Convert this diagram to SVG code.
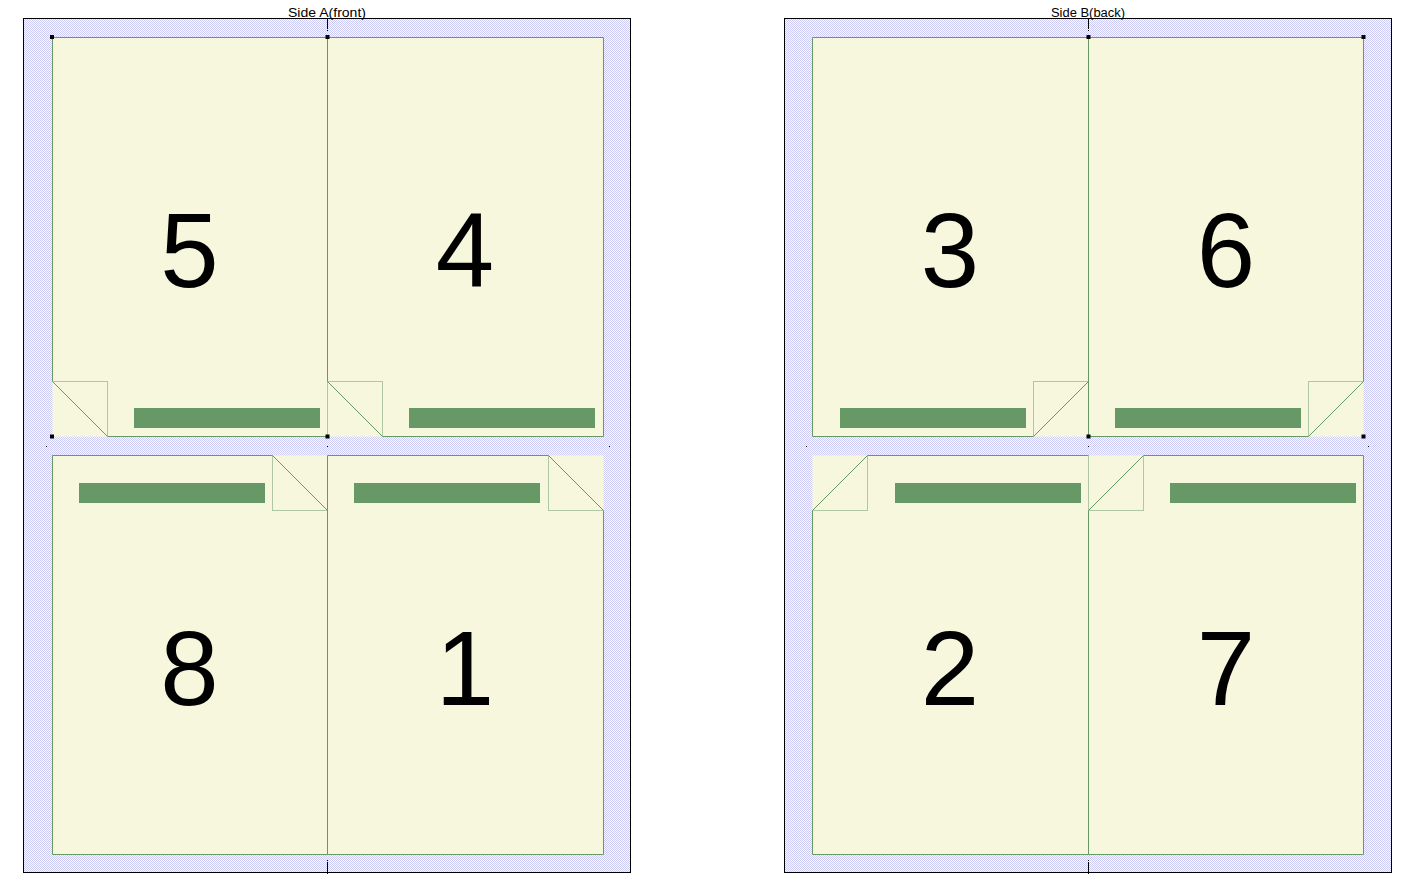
<svg xmlns="http://www.w3.org/2000/svg" width="1426" height="895" viewBox="0 0 1426 895">
<defs>
<pattern id="dots" x="0" y="0" width="2" height="2" patternUnits="userSpaceOnUse">
<rect width="2" height="2" fill="#fafaff"/>
<rect x="0" y="0" width="1" height="1" fill="#cbcbf6"/>
<rect x="1" y="1" width="1" height="1" fill="#cbcbf6"/>
</pattern>
</defs>
<style>
.sheet{fill:url(#dots);stroke:#000;stroke-width:1}
.page{fill:#f7f7de;stroke:#669966;stroke-width:1}
.foldfill{fill:#f7f7de;stroke:none}
.fold{fill:none;stroke:#669966;stroke-width:1}
.bar{fill:#669966}
.num{font-family:"Liberation Sans",Arial,sans-serif;font-size:105px;fill:#000;text-anchor:middle}
.title{font-family:"Liberation Sans",Arial,sans-serif;font-size:12px;fill:#000;text-anchor:middle}
.mk{fill:#000}
.tick{stroke:#000;stroke-width:1}
</style>
<rect width="1426" height="895" fill="#fff"/>

<g id="sideA">
<rect class="sheet" x="23.5" y="18.5" width="607" height="854"/>
<text class="title" x="327" y="17" textLength="78" lengthAdjust="spacingAndGlyphs">Side A(front)</text>

<g id="page5">
<path class="page" d="M52.5,37.5 H327.5 V436.5 H107.5 V381.5 H52.5 Z"/>
<rect class="foldfill" x="52.5" y="381.5" width="55" height="55"/>
<path class="fold" d="M52.5,381.5 L107.5,436.5"/>
<rect class="bar" x="134" y="408" width="186" height="20"/>
<text class="num" x="189.5" y="287">5</text>
</g>
<g id="page4">
<path class="page" d="M327.5,37.5 H603.5 V436.5 H382.5 V381.5 H327.5 Z"/>
<rect class="foldfill" x="327.5" y="381.5" width="55" height="55"/>
<path class="fold" d="M327.5,381.5 L382.5,436.5"/>
<rect class="bar" x="409" y="408" width="186" height="20"/>
<text class="num" x="465" y="287">4</text>
</g>
<g id="page8">
<path class="page" d="M52.5,455.5 H272.5 V510.5 H327.5 V854.5 H52.5 Z"/>
<rect class="foldfill" x="272.5" y="455.5" width="55" height="55"/>
<path class="fold" d="M272.5,455.5 L327.5,510.5"/>
<rect class="bar" x="79" y="483" width="186" height="20"/>
<text class="num" x="189.5" y="704.5">8</text>
</g>
<g id="page1">
<path class="page" d="M327.5,455.5 H548.5 V510.5 H603.5 V854.5 H327.5 Z"/>
<rect class="foldfill" x="548.5" y="455.5" width="55" height="55"/>
<path class="fold" d="M548.5,455.5 L603.5,510.5"/>
<rect class="bar" x="354" y="483" width="186" height="20"/>
<text class="num" x="465" y="704.5">1</text>
</g>
</g>

<g id="sideB">
<rect class="sheet" x="784.5" y="18.5" width="607" height="854"/>
<text class="title" x="1088" y="17" textLength="74" lengthAdjust="spacingAndGlyphs">Side B(back)</text>

<g id="page3">
<path class="page" d="M812.5,37.5 H1088.5 V381.5 H1033.5 V436.5 H812.5 Z"/>
<rect class="foldfill" x="1033.5" y="381.5" width="55" height="55"/>
<path class="fold" d="M1033.5,436.5 L1088.5,381.5"/>
<rect class="bar" x="840" y="408" width="186" height="20"/>
<text class="num" x="950" y="287">3</text>
</g>
<g id="page6">
<path class="page" d="M1088.5,37.5 H1363.5 V381.5 H1308.5 V436.5 H1088.5 Z"/>
<rect class="foldfill" x="1308.5" y="381.5" width="55" height="55"/>
<path class="fold" d="M1308.5,436.5 L1363.5,381.5"/>
<rect class="bar" x="1115" y="408" width="186" height="20"/>
<text class="num" x="1226" y="287">6</text>
</g>
<g id="page2">
<path class="page" d="M867.5,455.5 H1088.5 V854.5 H812.5 V510.5 H867.5 Z"/>
<rect class="foldfill" x="812.5" y="455.5" width="55" height="55"/>
<path class="fold" d="M812.5,510.5 L867.5,455.5"/>
<rect class="bar" x="895" y="483" width="186" height="20"/>
<text class="num" x="950" y="704.5">2</text>
</g>
<g id="page7">
<path class="page" d="M1143.5,455.5 H1363.5 V854.5 H1088.5 V510.5 H1143.5 Z"/>
<rect class="foldfill" x="1088.5" y="455.5" width="55" height="55"/>
<path class="fold" d="M1088.5,510.5 L1143.5,455.5"/>
<rect class="bar" x="1170" y="483" width="186" height="20"/>
<text class="num" x="1226" y="704.5">7</text>
</g>
</g>

<g id="marks">
<rect class="mk" x="50" y="35" width="4" height="4"/>
<rect class="mk" x="325.5" y="35" width="4" height="4"/>
<rect class="mk" x="50" y="434.5" width="4" height="4"/>
<rect class="mk" x="325.5" y="434.5" width="4" height="4"/>
<rect class="mk" x="1086.5" y="35" width="4" height="4"/>
<rect class="mk" x="1361.5" y="35" width="4" height="4"/>
<rect class="mk" x="1086.5" y="434.5" width="4" height="4"/>
<rect class="mk" x="1361.5" y="434.5" width="4" height="4"/>
<rect class="mk" x="46" y="446" width="1" height="1"/>
<rect class="mk" x="327" y="446" width="1" height="1"/>
<rect class="mk" x="609" y="446" width="1" height="1"/>
<rect class="mk" x="806" y="446" width="1" height="1"/>
<rect class="mk" x="1088" y="446" width="1" height="1"/>
<rect class="mk" x="1368" y="446" width="1" height="1"/>
<line class="tick" x1="327.5" y1="18" x2="327.5" y2="29"/>
<rect class="mk" x="327" y="30" width="1" height="1"/>
<line class="tick" x1="1088.5" y1="18" x2="1088.5" y2="29"/>
<rect class="mk" x="1088" y="30" width="1" height="1"/>
<rect class="mk" x="327" y="860" width="1" height="1"/>
<line class="tick" x1="327.5" y1="862" x2="327.5" y2="874"/>
<rect class="mk" x="1088" y="860" width="1" height="1"/>
<line class="tick" x1="1088.5" y1="862" x2="1088.5" y2="874"/>
</g>
</svg>
